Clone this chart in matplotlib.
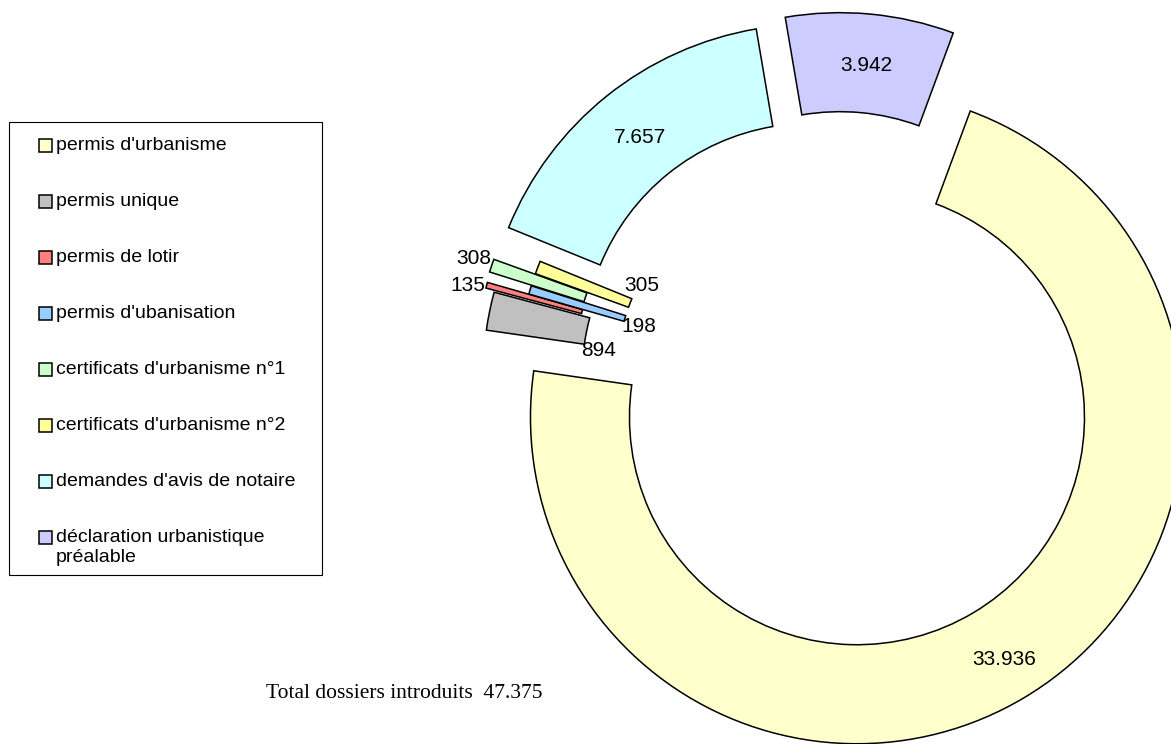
import numpy as np
import matplotlib.pyplot as plt
from matplotlib.patches import Rectangle

# data
categories = ["permis d'urbanisme", "permis unique", "permis de lotir",
              "permis d'ubanisation", "certificats d'urbanisme n°1",
              "certificats d'urbanisme n°2", "demandes d'avis de notaire",
              "déclaration urbanistique\npréalable"]
values = [33936, 894, 135, 198, 308, 305, 7657, 3942]
value_labels = ['33.936', '894', '135', '198', '308', '305', '7.657', '3.942']
total_label = 'Total dossiers introduits  47.375'

# style (explode is in pixels, the axes are in pixel units)
colors = ['#FFFFCC', '#C0C0C0', '#FF8080', '#99CCFF',
          '#CCFFCC', '#FFFF99', '#CCFFFF', '#CCCCFF']
explode = [41, 27, 36, -7, 37, -7, 40, 43]

W, H = 1171, 744
fig = plt.figure(figsize=(W / 100, H / 100), dpi=100)
ax = fig.add_axes([0, 0, 1, 1])

wedges, _ = ax.pie(values, colors=colors, explode=explode, startangle=69.7,
                   counterclock=False, radius=326.5, center=(836, H - 382),
                   wedgeprops=dict(width=99, edgecolor='black', linewidth=1.1))
ax.set_xlim(0, W)
ax.set_ylim(0, H)
ax.set_aspect('equal')
ax.axis('off')

lab_font = dict(family='Liberation Sans', fontsize=15, color='black')


def point(w, ang, rad):
    a = np.deg2rad(ang)
    return (w.center[0] + rad * np.cos(a), w.center[1] + rad * np.sin(a))


# labels inside the big wedges (with a small nudge in px)
for i, off in ((0, (6, -4)), (6, (2, -3)), (7, (1, -2))):
    w = wedges[i]
    ax.annotate(value_labels[i],
                xy=point(w, (w.theta1 + w.theta2) / 2, w.r - w.width / 2),
                xytext=off, textcoords='offset pixels',
                ha='center', va='center', **lab_font)

# labels next to the small wedges: (index, angle side, radius side, ha, offset px)
small = [(1, 'lo', 'in', 'left', (-3, -12)),
         (2, 'hi', 'out', 'right', (-2, -9)),
         (3, 'lo', 'in', 'left', (-3, -11)),
         (4, 'hi', 'out', 'right', (-3, -5)),
         (5, 'hi', 'in', 'left', (-8, 8))]
for i, side, rs, ha, off in small:
    w = wedges[i]
    ang = w.theta2 if side == 'lo' else w.theta1
    rad = w.r - w.width if rs == 'in' else w.r
    ax.annotate(value_labels[i], xy=point(w, ang, rad), xytext=off,
                textcoords='offset pixels', ha=ha, va='baseline', **lab_font)

# legend box
ax.add_patch(Rectangle((9, H - 575), 313, 575 - 122, facecolor='none',
                       edgecolor='black', linewidth=0.8))
for i, (name, col) in enumerate(zip(categories, colors)):
    yc = 145 + 56 * i
    ax.add_patch(Rectangle((39, H - yc - 6.5), 13, 13, facecolor=col,
                           edgecolor='black', linewidth=1.1))
    ax.text(56, H - yc, name.split('\n')[0], ha='left', va='center',
            family='Liberation Sans', fontsize=14)
    if '\n' in name:
        ax.text(56, H - yc - 21, name.split('\n')[1], ha='left', va='center',
                family='Liberation Sans', fontsize=14)

ax.text(542, H - 693, total_label, ha='right', va='center',
        family='Liberation Serif', fontsize=15.5)

fig.savefig('out.png', dpi=100)
